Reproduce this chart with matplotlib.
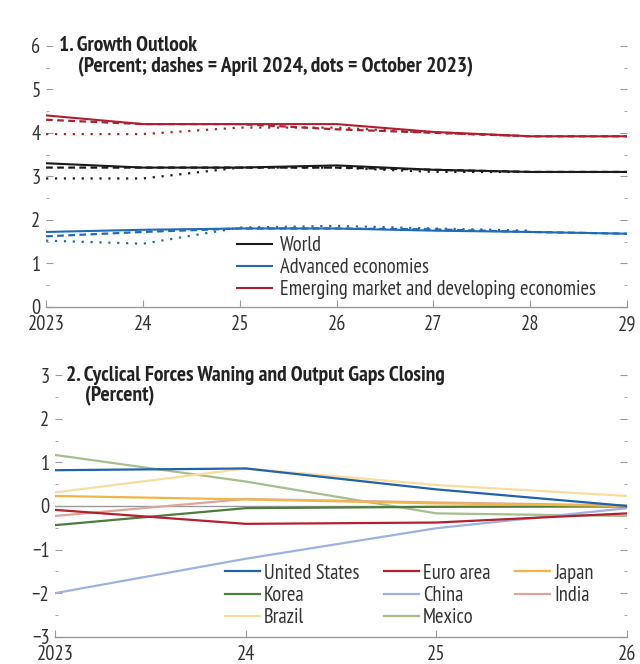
import matplotlib
matplotlib.use("Agg")
import matplotlib.pyplot as plt
from matplotlib import font_manager as fm
from matplotlib.ticker import MultipleLocator, FuncFormatter

# pick a condensed sans close to the original typeface
installed = set(f.name for f in fm.fontManager.ttflist)
FONT = "DejaVu Sans"
for cand in ["PT Sans Narrow", "Roboto Condensed", "Asap Condensed"]:
    if cand in installed:
        FONT = cand
        break
plt.rcParams['font.family'] = [FONT, 'DejaVu Sans']

# panel 1: growth outlook
years1 = [2023, 2024, 2025, 2026, 2027, 2028, 2029]
years1_oct = [2023, 2024, 2025, 2026, 2027, 2028]
xlabels1 = ["2023", "24", "25", "26", "27", "28", "29"]

world = [3.3, 3.2, 3.2, 3.25, 3.15, 3.1, 3.1]
world_apr = [3.2, 3.2, 3.2, 3.2, 3.15, 3.1, 3.1]
world_oct = [2.95, 2.95, 3.2, 3.2, 3.1, 3.1]

ae = [1.72, 1.77, 1.8, 1.8, 1.75, 1.72, 1.68]
ae_apr = [1.62, 1.72, 1.8, 1.8, 1.78, 1.72, 1.68]
ae_oct = [1.52, 1.45, 1.82, 1.86, 1.8, 1.75]

emde = [4.4, 4.2, 4.2, 4.2, 4.02, 3.92, 3.92]
emde_apr = [4.3, 4.2, 4.2, 4.08, 4.0, 3.92, 3.92]
emde_oct = [3.97, 3.97, 4.12, 4.12, 4.0, 3.92]

# panel 2: output gaps
years2 = [2023, 2024, 2025, 2026]
xlabels2 = ["2023", "24", "25", "26"]
gaps = {
    "United States": [0.82, 0.86, 0.38, 0.0],
    "Euro area": [-0.09, -0.41, -0.38, -0.17],
    "Japan": [0.23, 0.15, 0.06, 0.0],
    "Korea": [-0.44, -0.05, -0.02, -0.01],
    "China": [-2.0, -1.21, -0.51, -0.05],
    "India": [-0.23, 0.16, 0.08, 0.01],
    "Brazil": [0.31, 0.86, 0.48, 0.23],
    "Mexico": [1.17, 0.56, -0.17, -0.23],
}
gap_colors = {
    "United States": "#1f63ad",
    "Euro area": "#b3202e",
    "Japan": "#f3b646",
    "Korea": "#4c7d3c",
    "China": "#9db2e0",
    "India": "#dca69b",
    "Brazil": "#fbdc9d",
    "Mexico": "#a5bf8a",
}

BLACK = "#1a1a1a"
BLUE = "#1f6bb8"
RED = "#b01f30"
GRAY = "#9a9a9a"
TXT = "#333333"
FS = 14.8    # ticks / legend
TFS = 15.5   # panel titles


def style_axis(ax, ymin, ymax, years, labels):
    ax.set_xlim(years[0], years[-1])
    ax.set_ylim(ymin, ymax)
    for s in ["top", "left", "right"]:
        ax.spines[s].set_visible(False)
    ax.spines["bottom"].set_color(GRAY)
    ax.spines["bottom"].set_linewidth(1.0)
    ax.set_xticks(years)
    ax.set_xticklabels(labels)
    ax.tick_params(axis="x", direction="in", length=5, color=GRAY,
                   labelsize=FS, labelcolor=TXT, pad=6)
    ax.yaxis.set_major_locator(MultipleLocator(1))
    ax.yaxis.set_minor_locator(MultipleLocator(0.5))
    ax.tick_params(axis="y", which="major", direction="in", length=5,
                   color=GRAY, labelsize=FS, labelcolor=TXT, pad=4,
                   right=True)
    ax.tick_params(axis="y", which="minor", direction="in", length=2,
                   color=GRAY, right=True)
    ax.yaxis.set_major_formatter(
        FuncFormatter(lambda v, p: f"{v:.0f}".replace("-", "\u2212")))


fig = plt.figure(figsize=(6.4, 6.64), dpi=100)

# ---- panel 1
ax1 = fig.add_axes([0.072, 0.538, 0.908, 0.393])
style_axis(ax1, 0, 6, years1, xlabels1)

for vals, apr, octv, col, name in [
        (world, world_apr, world_oct, BLACK, "World"),
        (ae, ae_apr, ae_oct, BLUE, "Advanced economies"),
        (emde, emde_apr, emde_oct, RED, "Emerging market and developing economies")]:
    ax1.plot(years1_oct, octv, color=col, lw=1.6, ls=(0, (1, 3)))
    ax1.plot(years1, apr, color=col, lw=1.6, ls=(0, (3, 2)))
    ax1.plot(years1, vals, color=col, lw=1.5, label=name)

ax1.legend(loc="lower left", bbox_to_anchor=(0.328, 0.03), frameon=False,
           fontsize=FS, handlelength=1.7, handletextpad=0.4,
           labelspacing=0.15, borderaxespad=0, borderpad=0, labelcolor=TXT)

ax1.text(0.022, 1.0, "1. Growth Outlook", transform=ax1.transAxes,
         fontsize=TFS, fontweight="bold", color="#222222", va="center")
ax1.text(0.055, 0.918, "(Percent; dashes = April 2024, dots = October 2023)",
         transform=ax1.transAxes, fontsize=TFS, fontweight="bold",
         color="#222222", va="center")

# ---- panel 2
ax2 = fig.add_axes([0.086, 0.041, 0.894, 0.394])
style_axis(ax2, -3, 3, years2, xlabels2)
ax2.axhline(0, color=GRAY, lw=1.0, zorder=0)

order = ["Mexico", "Brazil", "India", "China", "Korea", "Japan",
         "Euro area", "United States"]
lines = {}
for name in order:
    ln, = ax2.plot(years2, gaps[name], color=gap_colors[name], lw=1.6, label=name)
    lines[name] = ln

leg_order = ["United States", "Korea", "Brazil", "Euro area", "China",
             "Mexico", "Japan", "India"]
handles = [lines[n] for n in leg_order]
ax2.legend(handles, leg_order, ncol=3,
           loc="lower left", bbox_to_anchor=(0.297, 0.038), frameon=False,
           fontsize=FS, handlelength=1.7, handletextpad=0.2,
           labelspacing=0.15, columnspacing=1.2, borderaxespad=0,
           borderpad=0, labelcolor=TXT)

ax2.text(0.019, 1.0, "2. Cyclical Forces Waning and Output Gaps Closing",
         transform=ax2.transAxes, fontsize=TFS, fontweight="bold",
         color="#222222", va="center")
ax2.text(0.052, 0.92, "(Percent)", transform=ax2.transAxes, fontsize=TFS,
         fontweight="bold", color="#222222", va="center")

fig.savefig("out.png", dpi=100)
